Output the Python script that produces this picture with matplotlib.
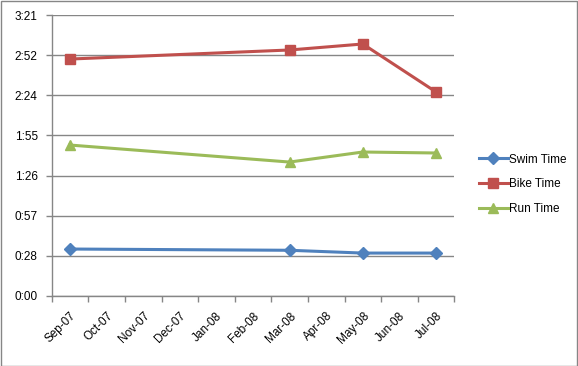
import matplotlib
matplotlib.use("Agg")
import matplotlib.pyplot as plt
from matplotlib.patches import Rectangle
from matplotlib.ticker import FixedLocator

months = ["Sep-07", "Oct-07", "Nov-07", "Dec-07", "Jan-08", "Feb-08",
          "Mar-08", "Apr-08", "May-08", "Jun-08", "Jul-08"]
race_months = ["Sep-07", "Mar-08", "May-08", "Jul-08"]
# times in minutes
swim = [33.7, 32.8, 30.8, 30.8]
bike = [170.0, 176.5, 180.8, 146.4]
run = [108.3, 96.1, 103.3, 102.6]
y_ticks_days = [0, 0.02, 0.04, 0.06, 0.08, 0.10, 0.12, 0.14]

def fmt(d):
    m = int(d * 24 * 60 + 1e-6)
    return f"{m // 60}:{m % 60:02d}"

plt.rcParams['font.family'] = ['Liberation Sans', 'DejaVu Sans']
W, H = 578, 366
fig = plt.figure(figsize=(W / 100, H / 100), dpi=100)
ax = fig.add_axes([51.7 / W, 1 - 296 / H, (454.3 - 51.7) / W, (296 - 15) / H])

x = [months.index(m) for m in race_months]
ax.plot(x, swim, color="#4F81BD", lw=2.2, marker="D", ms=6, label="Swim Time")
ax.plot(x, bike, color="#C0504D", lw=2.2, marker="s", ms=7, label="Bike Time")
ax.plot(x, run, color="#9BBB59", lw=2.2, marker="^", ms=7.5, label="Run Time")

yt = [d * 24 * 60 for d in y_ticks_days]
ax.set_ylim(0, yt[-1])
ax.set_yticks(yt)
ax.set_yticklabels([fmt(d) for d in y_ticks_days])
ax.set_xlim(-0.5, len(months) - 0.5)
ax.set_xticks(range(len(months)))
ax.set_xticklabels(months, rotation=45, ha="right", rotation_mode="anchor")
ax.xaxis.set_minor_locator(FixedLocator([i - 0.5 for i in range(len(months) + 1)]))
ax.tick_params(axis="x", which="major", length=0, pad=10, labelsize=8.5)
ax.tick_params(axis="x", which="minor", length=4, color="#868686", width=1)
ax.tick_params(axis="y", length=4, color="#868686", width=1, labelsize=8.5, pad=6)
ax.grid(axis="y", color="#868686", lw=1)
ax.set_axisbelow(True)
for s in ["top", "right"]:
    ax.spines[s].set_visible(False)
for s in ["left", "bottom"]:
    ax.spines[s].set_color("#868686")
    ax.spines[s].set_linewidth(1)

fig.legend(loc="center left", bbox_to_anchor=(468 / W, 1 - 184.5 / H), frameon=False,
           fontsize=8.5, handlelength=2.45, labelspacing=1.1, handletextpad=0.1)

fig.patches.append(Rectangle((0.5 / W, 0.5 / H), 1 - 1.5 / W, 1 - 1.5 / H, transform=fig.transFigure,
                             fill=False, edgecolor="#868686", lw=1))
fig.savefig("out.png", dpi=100)
